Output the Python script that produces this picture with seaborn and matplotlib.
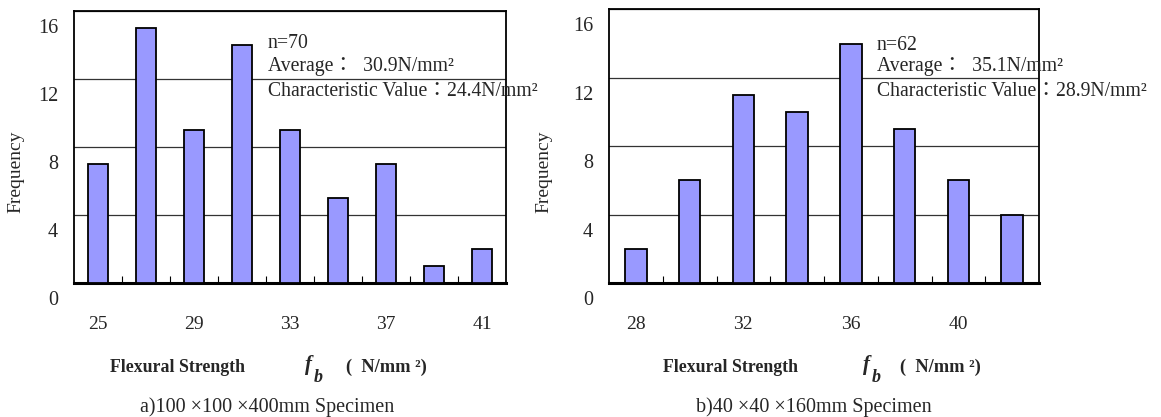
import matplotlib
matplotlib.use("Agg")
import matplotlib.pyplot as plt
import seaborn as sns
from matplotlib.transforms import ScaledTranslation

# ---------------- data ----------------
a_bins = ["25", "27", "29", "31", "33", "35", "37", "39", "41"]
a_freq = [7, 15, 9, 14, 9, 5, 7, 1, 2]
a_ticklabels = ["25", "", "29", "", "33", "", "37", "", "41"]
a_notes = ["n=70", "Average：  30.9N/mm²", "Characteristic Value：24.4N/mm²"]
a_caption = "a)100 ×100 ×400mm Specimen"

b_bins = ["28", "30", "32", "34", "36", "38", "40", "42"]
b_freq = [2, 6, 11, 10, 14, 9, 6, 4]
b_ticklabels = ["28", "", "32", "", "36", "", "40", ""]
b_notes = ["n=62", "Average：  35.1N/mm²", "Characteristic Value：28.9N/mm²"]
b_caption = "b)40 ×40 ×160mm Specimen"

y_ticks = [0, 4, 8, 12, 16]
y_label = "Frequency"
x_label_main = "Flexural Strength"
x_label_unit = "(  N/mm ²)"

# ---------------- style ----------------
sns.set_theme(style="white")
plt.rcParams["font.family"] = ["Liberation Serif", "Noto Sans CJK TC"]

W, H = 1161, 417
fig = plt.figure(figsize=(W / 100, H / 100), dpi=100)
fig.patch.set_facecolor("white")


def px(x, y):
    return x / W, 1 - y / H


def make_axes(left, top, right, bottom):
    return fig.add_axes([left / W, 1 - bottom / H, (right - left) / W, (bottom - top) / H])


def draw(ax, bins, freq, ticklabels, width):
    n = len(bins)
    sns.barplot(x=bins, y=freq, order=bins, ax=ax, color="#9999ff", saturation=1,
                edgecolor="black", linewidth=1.3, width=width, zorder=3)
    ax.set_xlim(-0.5, n - 0.5)
    ax.set_ylim(0, 16)
    ax.set_yticks(y_ticks)
    ax.set_yticklabels([str(v) for v in y_ticks])
    ax.set_xticks(range(n))
    ax.set_xticklabels(ticklabels)
    ax.set_xticks([i + 0.5 for i in range(n - 1)], minor=True)
    ax.set_axisbelow(True)
    ax.grid(axis="y", color="#333333", linewidth=0.9)
    ax.grid(axis="x", visible=False)
    for s in ax.spines.values():
        s.set_visible(True)
        s.set_color("black")
        s.set_linewidth(1.3)
    ax.spines["bottom"].set_linewidth(2.2)
    ax.tick_params(axis="x", which="major", length=0, pad=24, labelsize=14, bottom=True)
    ax.tick_params(axis="x", which="minor", direction="in", length=5, width=0.8,
                   color="black", bottom=True)
    ax.tick_params(axis="y", length=0, pad=11.5, labelsize=14.5, left=True)
    off = ScaledTranslation(0, -15 / 100, fig.dpi_scale_trans)
    for lab in ax.get_yticklabels():
        lab.set_transform(lab.get_transform() + off)
    ax.set_xlabel("")
    ax.set_ylabel("")


ax1 = make_axes(74, 11, 506, 283)
ax2 = make_axes(609, 9.4, 1039, 283)
draw(ax1, a_bins, a_freq, a_ticklabels, 0.42)
draw(ax2, b_bins, b_freq, b_ticklabels, 0.40)

# y labels
for x in (16, 544):
    fig.text(*px(x, 172), y_label, rotation=90, ha="center", va="center", fontsize=14)

# annotations
for x0, ys, notes in ((268, (43, 67, 91), a_notes), (877, (45, 67, 91), b_notes)):
    for y, t in zip(ys, notes):
        fig.text(*px(x0, y), t, ha="left", va="center", fontsize=14.2, zorder=5)

# x labels
for xs in ((110, 305, 314, 346), (663, 863, 872, 900)):
    fig.text(*px(xs[0], 368), x_label_main, ha="left", va="center", fontsize=12.8,
             fontweight="bold")
    fig.text(*px(xs[1], 365), "f", ha="left", va="center", fontsize=15,
             fontweight="bold", fontstyle="italic")
    fig.text(*px(xs[2], 378), "b", ha="left", va="center", fontsize=13,
             fontweight="bold", fontstyle="italic")
    fig.text(*px(xs[3], 367), x_label_unit, ha="left", va="center", fontsize=13.2,
             fontweight="bold")

# captions
fig.text(*px(267, 407), a_caption, ha="center", va="center", fontsize=14.5)
fig.text(*px(814, 407), b_caption, ha="center", va="center", fontsize=14.5)

fig.savefig("out.png", dpi=100, facecolor="white")
